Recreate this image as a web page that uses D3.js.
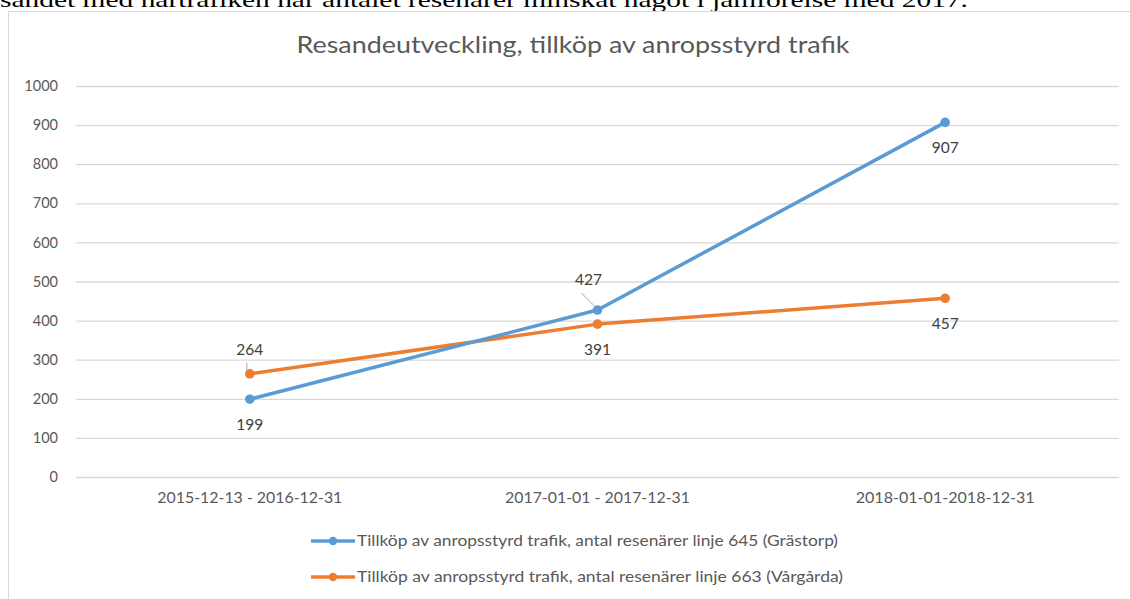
<!DOCTYPE html>
<html>
<head>
<meta charset="utf-8">
<script src="https://cdn.jsdelivr.net/npm/d3@7"></script>
<style>
  body { margin: 0; background: #fff; }
  svg { display: block; }
</style>
</head>
<body>
<div id="chart"></div>
<script>
// categories and values
const periods = ["2015-12-13 - 2016-12-31", "2017-01-01 - 2017-12-31", "2018-01-01-2018-12-31"];
const grastorp = [199, 427, 907];
const vargarda = [264, 391, 457];
const seriesNames = [
  "Tillköp av anropsstyrd trafik, antal resenärer linje 645 (Grästorp)",
  "Tillköp av anropsstyrd trafik, antal resenärer linje 663 (Vårgårda)"
];
const yTicks = [0, 100, 200, 300, 400, 500, 600, 700, 800, 900, 1000];
const title = "Resandeutveckling, tillköp av anropsstyrd trafik";
const topText = "sandet med närtrafiken har antalet resenärer minskat något i jämförelse med 2017.";

const W = 1130, H = 599;
const colors = ["#5b9bd5", "#ed7d31"];
const font = "Lato, 'Open Sans', sans-serif";

// where each value label sits relative to its point
const labelPlace = [["below", "upleft", "below"], ["above", "below", "below"]];

const svg = d3.select("#chart").append("svg")
  .attr("width", W).attr("height", H);

// bit of the document text cut off above the chart
svg.append("text")
  .attr("x", 0).attr("y", 7)
  .attr("font-family", "'Liberation Serif', 'Times New Roman', serif")
  .attr("font-size", 21)
  .attr("fill", "#000")
  .attr("textLength", 968).attr("lengthAdjust", "spacingAndGlyphs")
  .text(topText);

// chart frame
svg.append("rect")
  .attr("x", 8.5).attr("y", 11.5)
  .attr("width", 1140).attr("height", 620)
  .attr("fill", "#fff").attr("stroke", "#d9d9d9");

svg.append("text")
  .attr("x", 573).attr("y", 53)
  .attr("text-anchor", "middle")
  .attr("font-family", font).attr("font-size", 23)
  .attr("fill", "#595959")
  .attr("textLength", 553).attr("lengthAdjust", "spacingAndGlyphs")
  .text(title);

const x = d3.scaleBand().domain(periods).range([76, 1119]);
const y = d3.scaleLinear().domain([0, 1000]).range([477, 86]);
const cx = d => x(d) + x.bandwidth() / 2;

// gridlines + y labels
const yAxis = d3.axisLeft(y).tickValues(yTicks).tickFormat(d3.format("d"))
  .tickSize(-(1119 - 76)).tickPadding(18);
const gy = svg.append("g").attr("transform", "translate(76,0)").call(yAxis);
gy.select(".domain").remove();
gy.selectAll(".tick line").attr("stroke", "#d9d9d9").attr("stroke-width", 1.3);
gy.selectAll(".tick text")
  .attr("font-family", font).attr("font-size", 14.5).attr("fill", "#595959");

// x labels
const xAxis = d3.axisBottom(x).tickSize(0).tickPadding(15);
const gx = svg.append("g").attr("transform", "translate(0,477)").call(xAxis);
gx.select(".domain").remove();
gx.selectAll(".tick text")
  .attr("font-family", font).attr("font-size", 15).attr("fill", "#595959")
  .attr("textLength", (d, i) => i === 2 ? 179 : 185)
  .attr("lengthAdjust", "spacingAndGlyphs");

const series = [grastorp, vargarda];
const line = d3.line().x((d, i) => cx(periods[i])).y(d => y(d));

// orange drawn first so blue sits on top where they cross
[1, 0].forEach(s => {
  svg.append("path")
    .datum(series[s])
    .attr("d", line)
    .attr("fill", "none")
    .attr("stroke", colors[s])
    .attr("stroke-width", 3.5)
    .attr("stroke-linejoin", "round");
  svg.selectAll(null).data(series[s]).enter().append("circle")
    .attr("cx", (d, i) => cx(periods[i]))
    .attr("cy", d => y(d))
    .attr("r", 4.8)
    .attr("fill", colors[s]);
});

// value labels
series.forEach((vals, s) => {
  vals.forEach((v, i) => {
    const px = cx(periods[i]), py = y(v);
    const place = labelPlace[s][i];
    let lx = px, ly = py + 31;
    if (place === "above") ly = py - 19;
    if (place === "upleft") { lx = px - 9; ly = py - 25; }
    if (place !== "below") {
      // small leader line
      svg.append("line")
        .attr("x1", place === "upleft" ? px - 16 : px - 3)
        .attr("y1", place === "upleft" ? py - 17 : py - 11)
        .attr("x2", place === "upleft" ? px - 2 : px - 3)
        .attr("y2", py - 3)
        .attr("stroke", "#a6a6a6").attr("stroke-width", 1);
    }
    svg.append("text")
      .attr("x", lx).attr("y", ly)
      .attr("text-anchor", "middle")
      .attr("font-family", font).attr("font-size", 15.5)
      .attr("fill", "#404040")
      .text(v);
  });
});

// legend
const legend = svg.append("g");
seriesNames.forEach((name, s) => {
  const ly = 541 + s * 36;
  legend.append("line")
    .attr("x1", 311).attr("x2", 355).attr("y1", ly).attr("y2", ly)
    .attr("stroke", colors[s]).attr("stroke-width", 3.5);
  legend.append("circle")
    .attr("cx", 333).attr("cy", ly).attr("r", 4.2).attr("fill", colors[s]);
  legend.append("text")
    .attr("x", 357).attr("y", ly + 5)
    .attr("font-family", font).attr("font-size", 15)
    .attr("fill", "#595959")
    .attr("textLength", s === 0 ? 481 : 486).attr("lengthAdjust", "spacingAndGlyphs")
    .text(name);
});
</script>
</body>
</html>
